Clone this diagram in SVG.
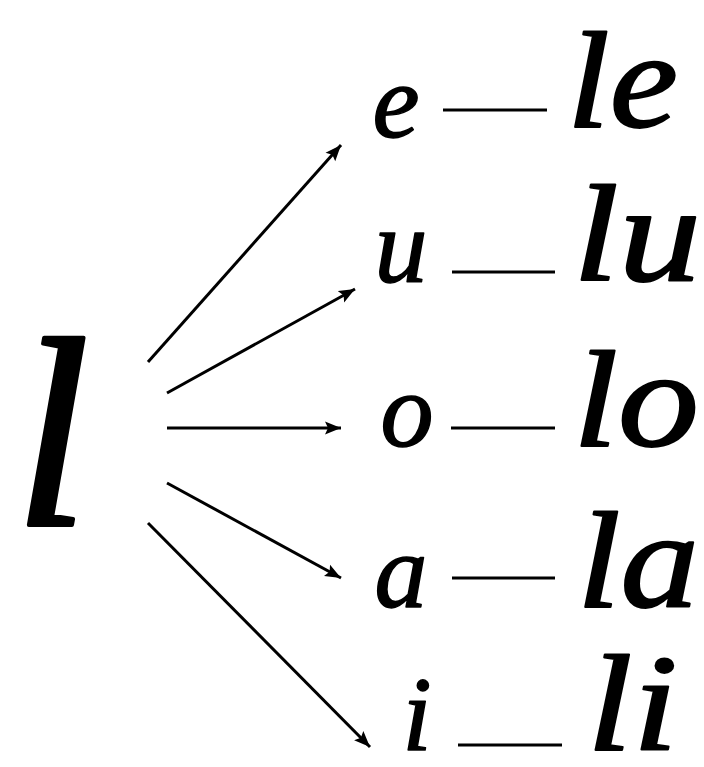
<svg xmlns="http://www.w3.org/2000/svg" width="704" height="767" viewBox="0 0 704 767">
<style>
.t{font-family:"Liberation Serif","Times New Roman",serif;font-style:italic;font-weight:400;fill:#000;stroke:#000;stroke-linejoin:round}
.mid{font-size:106px;stroke-width:1.5}
.right{font-size:138px;stroke-width:2}
.big{font-size:270px;stroke-width:4}
.dash{stroke:#000;stroke-width:3}
.arr{stroke:#000;stroke-width:3;fill:none;marker-end:url(#ah)}
</style>
<defs>
<marker id="ah" markerUnits="userSpaceOnUse" markerWidth="18" markerHeight="14" refX="16" refY="7" orient="auto">
<path d="M0,0.5 L16,7 L0,13.5 L3,7 Z" fill="#000"/>
</marker>
</defs>
<rect width="704" height="767" fill="#fff"/>
<g id="source-l"><text class="t big" x="52" y="525" text-anchor="middle">l</text></g>
<g id="connectors">
<line class="arr" x1="148" y1="362" x2="341" y2="145"/>
<line class="arr" x1="167" y1="393" x2="355" y2="289"/>
<line class="arr" x1="167" y1="428" x2="341" y2="428"/>
<line class="arr" x1="167" y1="483" x2="341" y2="578"/>
<line class="arr" x1="148" y1="523" x2="370" y2="747"/>
<line class="dash" x1="443" y1="110" x2="547" y2="110"/>
<line class="dash" x1="452" y1="272" x2="555" y2="272"/>
<line class="dash" x1="451" y1="428" x2="555" y2="428"/>
<line class="dash" x1="452" y1="578" x2="555" y2="578"/>
<line class="dash" x1="458" y1="745" x2="562" y2="745"/>
</g>
<g id="row-e">
<text class="t mid" x="396" y="137" text-anchor="middle">e</text>
<text class="t right" x="567" y="127" textLength="111" lengthAdjust="spacingAndGlyphs">le</text>
</g>
<g id="row-u">
<text class="t mid" x="401" y="282" text-anchor="middle">u</text>
<text class="t right" x="573" y="280" textLength="128" lengthAdjust="spacingAndGlyphs">lu</text>
</g>
<g id="row-o">
<text class="t mid" x="407" y="446" text-anchor="middle">o</text>
<text class="t right" x="573" y="446" textLength="126" lengthAdjust="spacingAndGlyphs">lo</text>
</g>
<g id="row-a">
<text class="t mid" x="401" y="607" text-anchor="middle">a</text>
<text class="t right" x="577" y="607" textLength="122" lengthAdjust="spacingAndGlyphs">la</text>
</g>
<g id="row-i">
<text class="t mid" x="417" y="750" text-anchor="middle">i</text>
<text class="t right" x="587" y="750" textLength="91" lengthAdjust="spacingAndGlyphs">li</text>
</g>
</svg>
